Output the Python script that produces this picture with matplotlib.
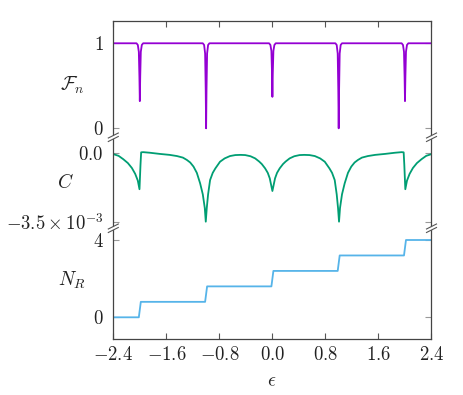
import matplotlib
matplotlib.use("Agg")
import matplotlib.pyplot as plt
from matplotlib.lines import Line2D
from matplotlib.patches import Polygon

plt.rcParams["mathtext.fontset"] = "cm"
plt.rcParams["font.family"] = "serif"

# ---- data ----
# fidelity F_n: flat at 1 with narrow dips at eps = -2, -1, 0, 1, 2
eps_F = [-2.4,
         -2.05, -2.03, -2.015, -2.006, -2.0, -1.994, -1.985, -1.97, -1.95,
         -1.05, -1.03, -1.015, -1.006, -1.0, -0.994, -0.985, -0.97, -0.95,
         -0.05, -0.03, -0.015, -0.006, 0.0, 0.006, 0.015, 0.03, 0.05,
         0.95, 0.97, 0.985, 0.994, 1.0, 1.006, 1.015, 1.03, 1.05,
         1.95, 1.97, 1.985, 1.994, 2.0, 2.006, 2.015, 2.03, 2.05,
         2.4]
F_n = [1.0,
       1.0, 0.98, 0.9, 0.6, 0.32, 0.6, 0.9, 0.98, 1.0,
       1.0, 0.98, 0.88, 0.45, 0.0, 0.45, 0.88, 0.98, 1.0,
       1.0, 0.98, 0.91, 0.65, 0.37, 0.65, 0.91, 0.98, 1.0,
       1.0, 0.98, 0.88, 0.45, 0.0, 0.45, 0.88, 0.98, 1.0,
       1.0, 0.98, 0.9, 0.6, 0.32, 0.6, 0.9, 0.98, 1.0,
       1.0]

# C (in units of 1e-3)
eps_C = [-2.4, -2.32, -2.25, -2.18, -2.12, -2.07, -2.03, -2.005, -1.99, -1.98,
         -1.95, -1.85, -1.7, -1.55, -1.44, -1.35, -1.29, -1.24, -1.19, -1.14,
         -1.09, -1.05, -1.02, -1.005, -0.99, -0.97, -0.94, -0.9, -0.86, -0.79,
         -0.72, -0.64, -0.56, -0.48, -0.41, -0.33, -0.26, -0.2, -0.16, -0.11,
         -0.07, -0.04, 0.0, 0.04, 0.07, 0.11, 0.16, 0.2, 0.26, 0.33,
         0.41, 0.48, 0.56, 0.64, 0.72, 0.79, 0.86, 0.9, 0.94, 0.97,
         0.99, 1.005, 1.02, 1.05, 1.09, 1.14, 1.19, 1.24, 1.29, 1.35,
         1.44, 1.55, 1.7, 1.85, 1.95, 1.98, 1.99, 2.005, 2.03, 2.07,
         2.12, 2.18, 2.25, 2.32, 2.4]
C_milli = [-0.04, -0.13, -0.3, -0.5, -0.75, -1.05, -1.4, -1.84, -0.6, 0.05,
           0.06, 0.03, -0.03, -0.08, -0.14, -0.22, -0.34, -0.47, -0.68, -1.0,
           -1.54, -2.1, -2.8, -3.5, -2.8, -2.1, -1.37, -1.0, -0.77, -0.43,
           -0.26, -0.14, -0.09, -0.08, -0.09, -0.15, -0.26, -0.42, -0.55, -0.77,
           -1.0, -1.28, -1.93, -1.28, -1.0, -0.77, -0.55, -0.42, -0.26, -0.15,
           -0.09, -0.08, -0.09, -0.14, -0.26, -0.43, -0.77, -1.0, -1.37, -2.1,
           -2.8, -3.5, -2.8, -2.1, -1.54, -1.0, -0.68, -0.47, -0.34, -0.22,
           -0.14, -0.08, -0.03, 0.03, 0.06, 0.05, -0.6, -1.84, -1.4, -1.05,
           -0.75, -0.5, -0.3, -0.13, -0.04]

# N_R staircase
eps_N = [-2.4, -2.015, -1.985, -1.015, -0.985, -0.015, 0.015, 0.985, 1.015, 1.985, 2.015, 2.4]
N_R = [0.0, 0.0, 0.8, 0.8, 1.6, 1.6, 2.4, 2.4, 3.2, 3.2, 4.0, 4.0]

x_ticks = [-2.4, -1.6, -0.8, 0.0, 0.8, 1.6, 2.4]
x_labels = ["$-2.4$", "$-1.6$", "$-0.8$", "$0.0$", "$0.8$", "$1.6$", "$2.4$"]

W, H = 463, 395
fig = plt.figure(figsize=(W / 100, H / 100), dpi=100)

left, width = 113.3 / W, 318.2 / W
ax1 = fig.add_axes([left, 1 - 137.5 / H, width, 116.5 / H])
ax2 = fig.add_axes([left, 1 - 228.5 / H, width, 91.0 / H])
ax3 = fig.add_axes([left, 1 - 339.3 / H, width, 110.8 / H])

ax1.plot(eps_F, F_n, color="#9400D3", lw=1.3)
ax2.plot(eps_C, [v * 1e-3 for v in C_milli], color="#009E73", lw=1.3)
ax3.plot(eps_N, N_R, color="#56B4E9", lw=1.3)

ax1.set_ylim(-0.108, 1.262)
ax2.set_ylim(-3.85e-3, 0.81e-3)
ax3.set_ylim(-1.138, 4.595)

ax1.set_yticks([0, 1], ["$0$", "$1$"])
ax2.set_yticks([-3.5e-3, 0.0], [r"$-3.5\times10^{-3}$", "$0.0$"])
ax3.set_yticks([0, 4], ["$0$", "$4$"])

for ax in (ax1, ax2, ax3):
    ax.set_xlim(-2.4, 2.4)
    ax.set_xticks(x_ticks)
    for s in ax.spines.values():
        s.set_color("#444444")
        s.set_linewidth(0.9)
    ax.tick_params(axis="y", direction="in", left=True, right=True, length=4.3,
                   width=0.8, color="#999999", labelsize=13.5, pad=7, labelcolor="#222222")
    ax.tick_params(axis="x", direction="in", length=4.3, width=0.8, color="#555555",
                   labelsize=13.5, pad=5, labelcolor="#222222")

ax1.spines["bottom"].set_visible(False)
ax1.tick_params(axis="x", top=True, bottom=False, labelbottom=False)
ax2.spines["top"].set_visible(False)
ax2.spines["bottom"].set_visible(False)
ax2.tick_params(axis="x", top=False, bottom=False, labelbottom=False)
ax3.spines["top"].set_visible(False)
ax3.tick_params(axis="x", top=False, bottom=True)
ax3.set_xticklabels(x_labels)

# y labels, horizontal
fig.text(72 / W, 1 - 85 / H, r"$\mathcal{F}_n$", fontsize=14, ha="center", va="center", color="#222222")
fig.text(65 / W, 1 - 183 / H, r"$C$", fontsize=14, ha="center", va="center", color="#222222")
fig.text(72 / W, 1 - 280 / H, r"$N_R$", fontsize=14, ha="center", va="center", color="#222222")
fig.text(272 / W, 1 - 381 / H, r"$\epsilon$", fontsize=14, ha="center", va="center", color="#222222")

# axis break marks on both spines
for yb in (137.5, 228.5):
    for xb in (113.3, 431.5):
        yc = H - yb
        gap = [(xb - 5, yc - 4), (xb + 5, yc + 1), (xb + 5, yc + 4), (xb - 5, yc - 1)]
        fig.add_artist(Polygon([(x / W, y / H) for x, y in gap], closed=True,
                               facecolor="white", edgecolor="none", transform=fig.transFigure, zorder=10))
        for dy in (-2.5, 1.0):
            fig.add_artist(Line2D([(xb - 5) / W, (xb + 5) / W],
                                  [(yc - 1.5 + dy) / H, (yc + 3.5 + dy) / H],
                                  color="#555555", lw=0.8, transform=fig.transFigure, zorder=11))

fig.savefig("out.png", dpi=100)
